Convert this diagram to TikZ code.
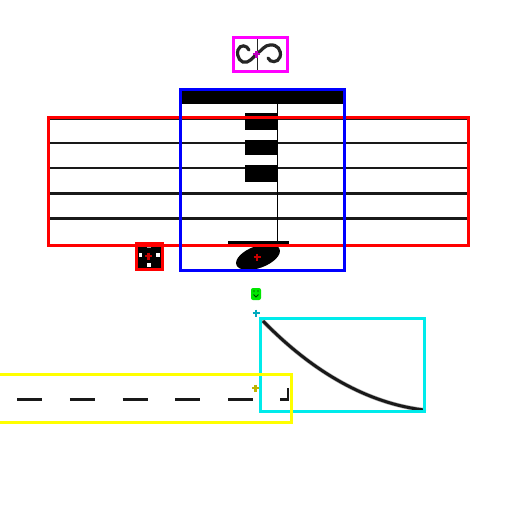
\documentclass[tikz,border=0pt]{standalone}
\definecolor{boxred}{RGB}{255,0,0}
\definecolor{boxblue}{RGB}{0,0,255}
\definecolor{boxmag}{RGB}{255,0,255}
\definecolor{boxcyan}{RGB}{0,235,235}
\definecolor{boxyel}{RGB}{255,255,0}
\definecolor{boxgreen}{RGB}{0,230,0}
\definecolor{mkmag}{RGB}{190,0,190}
\definecolor{mkred}{RGB}{200,0,0}
\definecolor{mkcyan}{RGB}{0,170,190}
\definecolor{mkyel}{RGB}{190,180,0}
\begin{document}
\begin{tikzpicture}[x=1pt,y=-1pt,
  bbox/.style={draw=#1, line width=3pt, inner sep=0pt, outer sep=0pt},
  ink/.style={line width=2.8pt, black!90},
  pics/crossmark/.style={code={\draw[line width=2.2pt,#1] (-3.5,0)--(3.5,0) (0,-3.5)--(0,3.5);}}]
\useasboundingbox[fill=white] (0,0) rectangle (512,512);
% staff lines
\foreach \yy in {118.3,143,168,193.3,218.3}
  \draw[ink] (48,\yy) -- (468,\yy);
% beam, stem, hooks
\fill[black] (182,91) rectangle (343,104);
\draw[line width=1.4pt] (277.3,104) -- (277.3,243);
\fill[black] (245,113) rectangle (278,130);
\fill[black] (245,140) rectangle (278,155);
\fill[black] (245,165) rectangle (278,181.5);
% ledger and note head
\draw[line width=2.6pt] (228,242.5) -- (289,242.5);
\fill[black, rotate around={20:(258,257)}] (258,257) ellipse (23pt and 11pt);
% turn glyph
\draw[line width=3.2pt, black!85, line cap=round]
  (249,50) .. controls (247,45) and (240,44) .. (238,50)
  .. controls (236,57) and (241,64) .. (247,62)
  .. controls (252,60) and (254,56) .. (258,53)
  .. controls (262,50) and (265,45) .. (270,45)
  .. controls (277,44) and (282,50) .. (280,57)
  .. controls (278,63) and (270,63) .. (268,58);
\draw[line width=1.6pt, black!85] (257.5,38) -- (257.5,70);
% dots glyph in small box
\fill[black] (137.5,244.5) rectangle (160.5,267.5);
\fill[white] (138.5,253) rectangle (142,257);
\fill[white] (156,253) rectangle (159.5,257);
\fill[white] (147,263) rectangle (151,266.5);
\fill[black!35] (147,245) rectangle (151,247.5);
% slur
\draw[black!30, line width=4.2pt, line cap=round] (263,321) .. controls (313.7,373) and (368.3,403.3) .. (424,410);
\draw[black!90, line width=3pt] (263,321) .. controls (313.7,373) and (368.3,403.3) .. (424,410);
% dashed line with hook
\draw[ink, dash pattern=on 25pt off 27.75pt] (17,399.5) -- (253,399.5);
\draw[ink] (280,399.5) -- (288,399.5) -- (288,388);
% annotation boxes
\node[bbox=boxred, minimum width=420pt, minimum height=128pt] (staffbox) at (258,181) {};
\node[bbox=boxblue, minimum width=164pt, minimum height=181pt] (notebox) at (262,179.5) {};
\node[bbox=boxmag, minimum width=54pt, minimum height=34pt] (turnbox) at (260,54) {};
\node[bbox=boxred, minimum width=26pt, minimum height=26pt] (dotbox) at (149,256) {};
\node[bbox=boxcyan, minimum width=164pt, minimum height=93pt] (slurbox) at (342,364.5) {};
\node[bbox=boxyel, minimum width=296pt, minimum height=48pt] (dashbox) at (143,398) {};
\node[fill=boxgreen, rounded corners=2pt, inner sep=0pt, minimum width=10pt, minimum height=12pt] (greenbox) at (256,294) {};
\draw[line width=0.8pt, green!25!black] (254,290)--(254,292) (258,290)--(258,292) (253.5,294.5)--(256,297)--(258.5,294.5);
% centre marks
\pic at (256.5,54) {crossmark=mkmag};
\pic at (257,257) {crossmark=mkred};
\pic at (148.5,256) {crossmark=mkred};
\pic at (256,313) {crossmark=mkcyan};
\pic at (255.5,388) {crossmark=mkyel};
\end{tikzpicture}
\end{document}
